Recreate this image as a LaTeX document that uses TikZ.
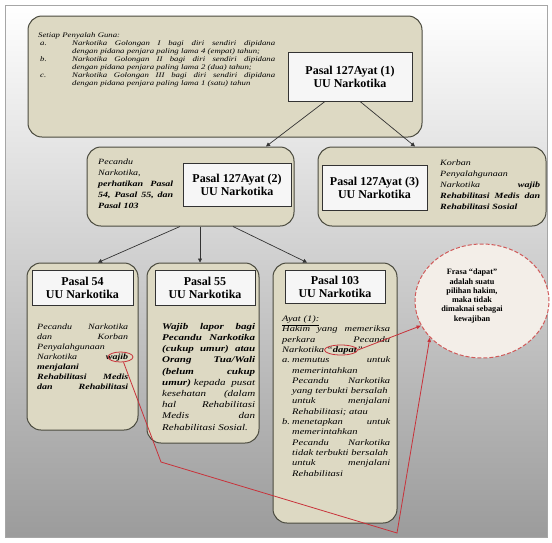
\documentclass[tikz,border=0pt]{standalone}
\usepackage{fontspec}
\setmainfont{Liberation Serif}
\newfontfamily\wideB[FakeStretch=1.25]{Liberation Serif}
\usetikzlibrary{arrows.meta,shapes.geometric}
\definecolor{tanfill}{HTML}{DDD9C3}
\definecolor{boxline}{HTML}{4A4A3E}
\definecolor{titlefill}{HTML}{F6F6F6}
\definecolor{redline}{HTML}{C8323A}
\definecolor{circfill}{HTML}{F3EEE8}
\definecolor{circline}{HTML}{D05A5A}
\begin{document}
\begin{tikzpicture}[x=1pt,y=-1pt,
  tanbox/.style={draw=boxline, line width=1pt, fill=tanfill, rounded corners=14pt, inner sep=0pt},
  titlebox/.style={draw=black!80, line width=0.9pt, fill=titlefill, inner sep=0pt, align=center, font=\bfseries\fontsize{12}{12.8}\selectfont},
  bodytext/.style={inner sep=0pt, anchor=north west, align=left},
  arr/.style={draw=black!80, line width=0.7pt, -{Triangle[length=4pt,width=4pt]}},
  redarr/.style={draw=redline, line width=0.8pt, -{Triangle[length=4.5pt,width=3.5pt]}},
  ringmark/.style={ellipse, draw=redline, line width=0.8pt, inner sep=0pt}
]
\useasboundingbox (0,0) rectangle (552,542);
\fill[white] (0,0) rectangle (552,542);
\shade[top color=white, middle color=black!14, bottom color=black!39] (5,5) rectangle (547,537);
\draw[black!35, line width=0.6pt] (5,5) rectangle (547,537);

% top box
\node[tanbox, minimum width=394pt, minimum height=121pt] (b1) at (225,76.5) {};
\node[titlebox, minimum width=124pt, minimum height=49pt] (t1) at (350,76.5) {Pasal 127Ayat (1)\\UU Narkotika};
\node[bodytext, text width=237pt, font=\wideB\itshape\fontsize{7.0}{8}\selectfont] (b1txt) at (38,32) {%
Setiap Penyalah Guna:\\
\makebox[34pt][l]{\hspace{2pt}a.}Narkotika\hfill Golongan\hfill I\hfill bagi\hfill diri\hfill sendiri\hfill dipidana\\
\hspace*{34pt}\mbox{dengan pidana penjara paling lama 4 (empat) tahun;}\\
\makebox[34pt][l]{\hspace{2pt}b.}Narkotika\hfill Golongan\hfill II\hfill bagi\hfill diri\hfill sendiri\hfill dipidana\\
\hspace*{34pt}\mbox{dengan pidana penjara paling lama 2 (dua) tahun;}\\
\makebox[34pt][l]{\hspace{2pt}c.}Narkotika\hfill Golongan\hfill III\hfill bagi\hfill diri\hfill sendiri\hfill dipidana\\
\hspace*{34pt}\mbox{dengan pidana penjara paling lama 1 (satu) tahun}};

% second row
\node[tanbox, minimum width=207pt, minimum height=79pt] (b2) at (190.5,186.5) {};
\node[titlebox, minimum width=108pt, minimum height=43pt] (t2) at (237,184.5) {Pasal 127Ayat (2)\\UU Narkotika};
\node[bodytext, text width=75pt, font=\wideB\itshape\fontsize{8}{11}\selectfont] (b2txt) at (98,158.5) {%
Pecandu\\
Narkotika,\\
\textbf{perhatikan\hfill Pasal}\\
\textbf{54,\hfill Pasal\hfill 55,\hfill dan}\\
\textbf{Pasal 103}};

\node[tanbox, minimum width=228pt, minimum height=79pt] (b3) at (432,186.5) {};
\node[titlebox, minimum width=105pt, minimum height=45pt] (t3) at (374.5,187.5) {Pasal 127Ayat (3)\\UU Narkotika};
\node[bodytext, text width=100pt, font=\wideB\itshape\fontsize{8}{11}\selectfont] (b3txt) at (440,159.5) {%
Korban\\
Penyalahgunaan\\
Narkotika\hfill\textbf{wajib}\\
\textbf{Rehabilitasi\hfill Medis\hfill dan}\\
\textbf{Rehabilitasi Sosial}};

% third row
\node[tanbox, minimum width=111pt, minimum height=167pt] (b54) at (82.5,346.5) {};
\node[titlebox, minimum width=101pt, minimum height=35pt] (t54) at (82.5,287.5) {Pasal 54\\UU Narkotika};
\node[bodytext, text width=91pt, font=\wideB\itshape\fontsize{8}{10.1}\selectfont] (b54txt) at (37,323.5) {%
Pecandu\hfill Narkotika\\
dan\hfill Korban\\
Penyalahgunaan\\
Narkotika\hfill\textbf{wajib}\\
\textbf{menjalani}\\
\textbf{Rehabilitasi\hfill Medis}\\
\textbf{dan\hfill Rehabilitasi}};

\node[tanbox, minimum width=112pt, minimum height=180pt] (b55) at (203,353) {};
\node[titlebox, minimum width=100pt, minimum height=35pt] (t55) at (205,287.5) {Pasal 55\\UU Narkotika};
\node[bodytext, text width=93pt, font=\wideB\itshape\fontsize{8.8}{11.2}\selectfont] (b55txt) at (162,323) {%
\textbf{Wajib\hfill lapor\hfill bagi}\\
\textbf{Pecandu\hfill Narkotika}\\
\textbf{(cukup\hfill umur)\hfill atau}\\
\textbf{Orang\hfill Tua/Wali}\\
\textbf{(belum\hfill cukup}\\
\textbf{umur)} kepada\hfill pusat\\
kesehatan\hfill (dalam\\
hal\hfill Rehabilitasi\\
Medis\hfill dan\\
Rehabilitasi Sosial.};

\node[tanbox, minimum width=124pt, minimum height=260pt] (b103) at (335,393) {};
\node[titlebox, minimum width=100pt, minimum height=33pt] (t103) at (335,286.5) {Pasal 103\\UU Narkotika};
\node[bodytext, text width=108pt, font=\wideB\itshape\fontsize{8.4}{10.3}\selectfont] (b103txt) at (282,315.5) {%
\underline{Ayat (1):}\\
Hakim\hfill yang\hfill memeriksa\\
perkara\hfill Pecandu\\
Narkotika “\textbf{dapat}”\\
\makebox[10pt][l]{a.}memutus\hfill untuk\\
\hspace*{10pt}memerintahkan\\
\hspace*{10pt}Pecandu\hfill Narkotika\\
\hspace*{10pt}yang terbukti bersalah\\
\hspace*{10pt}untuk\hfill menjalani\\
\hspace*{10pt}Rehabilitasi; atau\\
\makebox[10pt][l]{b.}menetapkan\hfill untuk\\
\hspace*{10pt}memerintahkan\\
\hspace*{10pt}Pecandu\hfill Narkotika\\
\hspace*{10pt}tidak terbukti bersalah\\
\hspace*{10pt}untuk\hfill menjalani\\
\hspace*{10pt}Rehabilitasi};

% circle
\node[ellipse, draw=circline, dash pattern=on 4pt off 2pt, line width=1pt, fill=circfill, minimum width=134pt, minimum height=114pt, inner sep=0pt] (circ) at (482,301) {};
\node[inner sep=0pt, align=center, font=\bfseries\fontsize{8.2}{9.3}\selectfont] (circtxt) at (472,296) {Frasa “dapat”\\adalah suatu\\pilihan hakim,\\maka tidak\\dimaknai sebagai\\kewajiban};

% black arrows
\draw[arr] ([xshift=-25pt]t1.south) -- ([xshift=75.5pt]b2.north);
\draw[arr] ([xshift=10pt]t1.south) -- ([xshift=-17pt]b3.north);
\draw[arr] ([xshift=-10.5pt]b2.south) -- ([xshift=15.5pt]b54.north);
\draw[arr] ([xshift=9.5pt]b2.south) -- ([xshift=-3pt]b55.north);
\draw[arr] ([xshift=42.5pt]b2.south) -- ([xshift=-28pt]b103.north);

% red marks and lines
\node[ringmark, minimum width=25pt, minimum height=10pt] (wmark) at (120.5,357) {};
\node[ringmark, minimum width=33pt, minimum height=10pt] (dmark) at (341,350) {};
\coordinate (r1) at (161,462);
\coordinate (r2) at (397,533);
\draw[redarr] (dmark.east) -- (circ.202);
\draw[redarr] (wmark.-60) -- (r1) -- (r2) -- (circ.215);
\end{tikzpicture}
\end{document}
